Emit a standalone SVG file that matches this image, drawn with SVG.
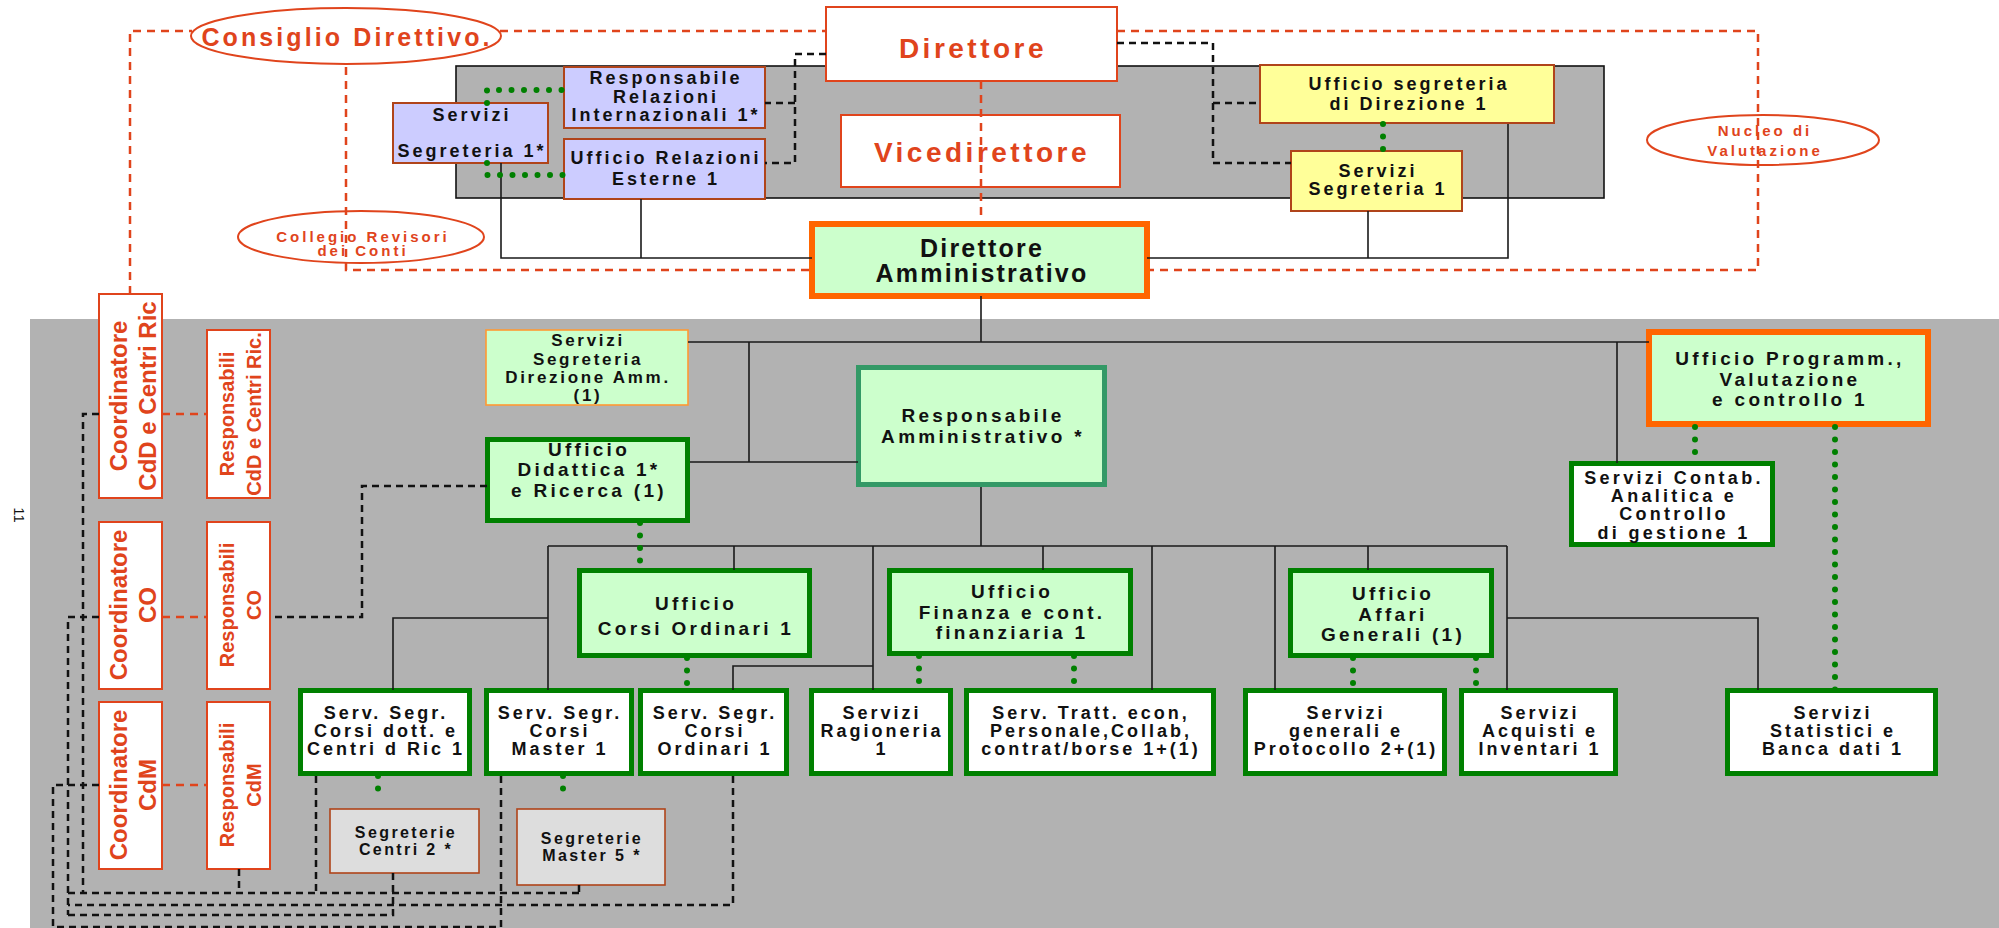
<svg xmlns="http://www.w3.org/2000/svg" width="1999" height="928" viewBox="0 0 1999 928">
  <style>
    .t { font-family: "Liberation Sans", Arial, Helvetica, sans-serif; font-weight: bold; text-anchor: middle; fill: #111; }
    .red { fill: #e0441c; }
    .f15 { font-size: 15px; letter-spacing: 3px; }
    .f16 { font-size: 16px; letter-spacing: 2.4px; }
    .f17 { font-size: 17px; letter-spacing: 2.7px; }
    .f18 { font-size: 18px; letter-spacing: 3px; }
    .f19 { font-size: 19px; letter-spacing: 3.3px; }
    .f25 { font-size: 25px; letter-spacing: 2.2px; }
    .f28 { font-size: 28px; letter-spacing: 3.5px; }
    .rot24 { font-size: 24px; }
    .rot20 { font-size: 20px; }
    .panel { fill: #b2b2b2; }
    .lav { fill: #ccccff; stroke: #b0441a; stroke-width: 2; }
    .yel { fill: #ffff99; stroke: #b0441a; stroke-width: 2; }
    .wred { fill: #fff; stroke: #e0441c; stroke-width: 2; }
    .lg { fill: #ccffcc; stroke: #008000; stroke-width: 5; }
    .wg { fill: #fff; stroke: #008000; stroke-width: 5; }
    .lgo { fill: #ccffcc; stroke: #ff6600; stroke-width: 6; }
    .grey { fill: #dddddd; stroke: #b0441a; stroke-width: 1.6; }
    .oval { fill: none; stroke: #e0441c; stroke-width: 2; }
    .solid { fill: none; stroke: #1a1a1a; stroke-width: 1.6; }
    .bdash { fill: none; stroke: #111; stroke-width: 2.5; stroke-dasharray: 7 5; }
    .rdash { fill: none; stroke: #e0441c; stroke-width: 2.5; stroke-dasharray: 8 6; }
    .dots { fill: none; stroke: #008000; stroke-width: 6; stroke-linecap: round; stroke-dasharray: 0 12.5; }
  </style>

  <!-- background panels -->
  <rect x="0" y="0" width="1999" height="928" fill="#fff"/>
  <rect class="panel" x="30" y="319" width="1969" height="609"/>
  <rect class="panel" x="456" y="66" width="1148" height="132" stroke="#111" stroke-width="1.6"/>
  <text class="t" transform="translate(14,515) rotate(90)" style="font-size:15px;font-weight:normal">11</text>

  <!-- nodes -->
  <g id="consiglio-direttivo">
    <ellipse cx="346" cy="36" rx="155" ry="28" fill="#fff" stroke="#e0441c" stroke-width="2"/>
    <text class="t red" x="347" y="46" style="font-size:25px;letter-spacing:3.1px">Consiglio Direttivo.</text>
  </g>
  <g id="collegio-revisori">
    <ellipse class="oval" cx="361" cy="237" rx="123" ry="26"/>
    <text class="t red f15" x="363" y="242">Collegio Revisori</text>
    <text class="t red f15" x="363" y="256">dei Conti</text>
  </g>
  <g id="nucleo-valutazione">
    <ellipse class="oval" cx="1763" cy="140" rx="116" ry="25"/>
    <text class="t red f15" x="1765" y="136">Nucleo di</text>
    <text class="t red f15" x="1765" y="156">Valutazione</text>
  </g>
  <g id="direttore">
    <rect class="wred" x="826" y="7" width="291" height="74"/>
    <text class="t red f28" x="973" y="58">Direttore</text>
  </g>
  <g id="vicedirettore">
    <rect class="wred" x="841" y="115" width="279" height="72"/>
    <text class="t red f28" x="982" y="162">Vicedirettore</text>
  </g>
  <g id="resp-relazioni-int">
    <rect class="lav" x="564" y="67" width="201" height="61"/>
    <text class="t f18" x="666" y="84">Responsabile</text>
    <text class="t f18" x="666" y="103">Relazioni</text>
    <text class="t f18" x="666" y="121">Internazionali 1*</text>
  </g>
  <g id="uff-relazioni-est">
    <rect class="lav" x="564" y="139" width="201" height="60"/>
    <text class="t f18" x="666" y="164">Ufficio Relazioni</text>
    <text class="t f18" x="666" y="185">Esterne 1</text>
  </g>
  <g id="servizi-segreteria-dir">
    <rect class="lav" x="393" y="103" width="155" height="60"/>
    <text class="t f18" x="472" y="121">Servizi</text>
    <text class="t f18" x="472" y="157">Segreteria 1*</text>
  </g>
  <g id="uff-segreteria-direzione">
    <rect class="yel" x="1260" y="65" width="294" height="58"/>
    <text class="t f18" x="1409" y="90">Ufficio segreteria</text>
    <text class="t f18" x="1409" y="110">di Direzione 1</text>
  </g>
  <g id="servizi-segreteria-1">
    <rect class="yel" x="1291" y="151" width="171" height="60"/>
    <text class="t f18" x="1378" y="177">Servizi</text>
    <text class="t f18" x="1378" y="195">Segreteria 1</text>
  </g>
  <g id="direttore-amm">
    <rect class="lgo" x="812" y="224" width="335" height="72"/>
    <text class="t f25" x="982" y="257">Direttore</text>
    <text class="t f25" x="982" y="282">Amministrativo</text>
  </g>

  <g id="coord-cdd">
    <rect class="wred" x="99" y="294" width="63" height="204"/>
    <text class="t red rot24" transform="translate(127,396) rotate(-90)">Coordinatore</text>
    <text class="t red rot24" transform="translate(156,396) rotate(-90)">CdD e Centri Ric</text>
  </g>
  <g id="resp-cdd">
    <rect class="wred" x="207" y="330" width="63" height="168"/>
    <text class="t red rot20" transform="translate(234,414) rotate(-90)">Responsabili</text>
    <text class="t red rot20" transform="translate(261,414) rotate(-90)">CdD e Centri Ric.</text>
  </g>
  <g id="coord-co">
    <rect class="wred" x="99" y="522" width="63" height="167"/>
    <text class="t red rot24" transform="translate(127,605) rotate(-90)">Coordinatore</text>
    <text class="t red rot24" transform="translate(156,605) rotate(-90)">CO</text>
  </g>
  <g id="resp-co">
    <rect class="wred" x="207" y="522" width="63" height="167"/>
    <text class="t red rot20" transform="translate(234,605) rotate(-90)">Responsabili</text>
    <text class="t red rot20" transform="translate(261,605) rotate(-90)">CO</text>
  </g>
  <g id="coord-cdm">
    <rect class="wred" x="99" y="702" width="63" height="167"/>
    <text class="t red rot24" transform="translate(127,785) rotate(-90)">Coordinatore</text>
    <text class="t red rot24" transform="translate(156,785) rotate(-90)">CdM</text>
  </g>
  <g id="resp-cdm">
    <rect class="wred" x="207" y="702" width="63" height="167"/>
    <text class="t red rot20" transform="translate(234,785) rotate(-90)">Responsabili</text>
    <text class="t red rot20" transform="translate(261,785) rotate(-90)">CdM</text>
  </g>

  <g id="servizi-segreteria-dir-amm">
    <rect x="486" y="330" width="202" height="75" fill="#ccffcc" stroke="#ff9933" stroke-width="1.6"/>
    <text class="t f17" x="588" y="346">Servizi</text>
    <text class="t f17" x="588" y="365">Segreteria</text>
    <text class="t f17" x="588" y="383">Direzione Amm.</text>
    <text class="t f17" x="588" y="401">(1)</text>
  </g>
  <g id="uff-didattica">
    <rect class="lg" x="487.5" y="439.5" width="200" height="81"/>
    <text class="t f19" x="589" y="456">Ufficio</text>
    <text class="t f19" x="589" y="476">Didattica 1*</text>
    <text class="t f19" x="589" y="497">e Ricerca (1)</text>
  </g>
  <g id="resp-amministrativo">
    <rect x="858.5" y="367.5" width="246" height="117" fill="#ccffcc" stroke="#339966" stroke-width="5"/>
    <text class="t f19" x="983" y="422">Responsabile</text>
    <text class="t f19" x="983" y="443">Amministrativo *</text>
  </g>
  <g id="uff-programmazione">
    <rect class="lgo" x="1649" y="332" width="279" height="92"/>
    <text class="t f19" x="1790" y="365">Ufficio Programm.,</text>
    <text class="t f19" x="1790" y="386">Valutazione</text>
    <text class="t f19" x="1790" y="406">e controllo 1</text>
  </g>
  <g id="servizi-contab">
    <rect class="wg" x="1571.5" y="463.5" width="201" height="81"/>
    <text class="t f18" x="1674" y="484" style="letter-spacing:3.3px">Servizi Contab.</text>
    <text class="t f18" x="1674" y="502" style="letter-spacing:3.3px">Analitica e</text>
    <text class="t f18" x="1674" y="520" style="letter-spacing:3.3px">Controllo</text>
    <text class="t f18" x="1674" y="539" style="letter-spacing:3.3px">di gestione 1</text>
  </g>
  <g id="uff-corsi-ordinari">
    <rect class="lg" x="579.5" y="570.5" width="230" height="85"/>
    <text class="t f19" x="696" y="610">Ufficio</text>
    <text class="t f19" x="696" y="635">Corsi Ordinari 1</text>
  </g>
  <g id="uff-finanza">
    <rect class="lg" x="889.5" y="570.5" width="241" height="83"/>
    <text class="t f19" x="1012" y="598">Ufficio</text>
    <text class="t f19" x="1012" y="619">Finanza e cont.</text>
    <text class="t f19" x="1012" y="639">finanziaria 1</text>
  </g>
  <g id="uff-affari-generali">
    <rect class="lg" x="1290.5" y="570.5" width="201" height="85"/>
    <text class="t f19" x="1393" y="600">Ufficio</text>
    <text class="t f19" x="1393" y="621">Affari</text>
    <text class="t f19" x="1393" y="641">Generali (1)</text>
  </g>

  <g id="serv-segr-dott">
    <rect class="wg" x="300.5" y="690.5" width="169" height="83"/>
    <text class="t f18" x="386" y="719">Serv. Segr.</text>
    <text class="t f18" x="386" y="737">Corsi dott. e</text>
    <text class="t f18" x="386" y="755">Centri d Ric 1</text>
  </g>
  <g id="serv-segr-master">
    <rect class="wg" x="486.5" y="690.5" width="145" height="83"/>
    <text class="t f18" x="560" y="719">Serv. Segr.</text>
    <text class="t f18" x="560" y="737">Corsi</text>
    <text class="t f18" x="560" y="755">Master 1</text>
  </g>
  <g id="serv-segr-ordinari">
    <rect class="wg" x="640.5" y="690.5" width="146" height="83"/>
    <text class="t f18" x="715" y="719">Serv. Segr.</text>
    <text class="t f18" x="715" y="737">Corsi</text>
    <text class="t f18" x="715" y="755">Ordinari 1</text>
  </g>
  <g id="servizi-ragioneria">
    <rect class="wg" x="811.5" y="690.5" width="139" height="83"/>
    <text class="t f18" x="882" y="719">Servizi</text>
    <text class="t f18" x="882" y="737">Ragioneria</text>
    <text class="t f18" x="882" y="755">1</text>
  </g>
  <g id="serv-tratt-econ">
    <rect class="wg" x="966.5" y="690.5" width="247" height="83"/>
    <text class="t f18" x="1091" y="719">Serv. Tratt. econ,</text>
    <text class="t f18" x="1091" y="737">Personale,Collab,</text>
    <text class="t f18" x="1091" y="755">contrat/borse 1+(1)</text>
  </g>
  <g id="servizi-generali">
    <rect class="wg" x="1245.5" y="690.5" width="199" height="83"/>
    <text class="t f18" x="1346" y="719">Servizi</text>
    <text class="t f18" x="1346" y="737">generali e</text>
    <text class="t f18" x="1346" y="755">Protocollo 2+(1)</text>
  </g>
  <g id="servizi-acquisti">
    <rect class="wg" x="1461.5" y="690.5" width="154" height="83"/>
    <text class="t f18" x="1540" y="719">Servizi</text>
    <text class="t f18" x="1540" y="737">Acquisti e</text>
    <text class="t f18" x="1540" y="755">Inventari 1</text>
  </g>
  <g id="servizi-statistici">
    <rect class="wg" x="1727.5" y="690.5" width="208" height="83"/>
    <text class="t f18" x="1833" y="719">Servizi</text>
    <text class="t f18" x="1833" y="737">Statistici e</text>
    <text class="t f18" x="1833" y="755">Banca dati 1</text>
  </g>
  <g id="segreterie-centri">
    <rect class="grey" x="330" y="809" width="149" height="64"/>
    <text class="t f16" x="406" y="838">Segreterie</text>
    <text class="t f16" x="406" y="855">Centri 2 *</text>
  </g>
  <g id="segreterie-master">
    <rect class="grey" x="517" y="809" width="148" height="76"/>
    <text class="t f16" x="592" y="844">Segreterie</text>
    <text class="t f16" x="592" y="861">Master 5 *</text>
  </g>

  <!-- connectors -->
  <g id="connectors">
    <!-- solid hierarchy lines -->
    <path class="solid" d="M501,163 V258 H812 M641,199 V258"/>
    <path class="solid" d="M1147,258 H1508 V124 M1368,211 V258"/>
    <path class="solid" d="M981,296 V342 M688,342 H1649 M749,342 V462 M690,462 H858"/>
    <path class="solid" d="M1617,342 V463"/>
    <path class="solid" d="M981,487 V546 M548,546 H1507"/>
    <path class="solid" d="M548,546 V690 M548,618 H393 V690"/>
    <path class="solid" d="M734,546 V570 M873,546 V690 M873,666 H733 V690"/>
    <path class="solid" d="M1043,546 V570 M1152,546 V690 M1275,546 V690 M1368,546 V570"/>
    <path class="solid" d="M1507,546 V690 M1507,618 H1758 V690"/>

    <!-- dashed staff links of the Direttore -->
    <path class="bdash" d="M826,54 H795 V163 H765 M795,103 H765"/>
    <path class="bdash" d="M1117,43 H1213 V163 H1291 M1213,103 H1260"/>

    <!-- governing bodies frame -->
    <path class="rdash" d="M130,294 V31 H192 M500,31 H826 M1117,31 H1758 V270 H1150 M809,270 H346 V64"/>
    <path class="rdash" d="M981,81 V221"/>
    <path class="rdash" d="M162,414 H207 M162,617 H207 M162,785 H207"/>

    <!-- dashed coordination network -->
    <path class="bdash" d="M99,414 H83 V893"/>
    <path class="bdash" d="M487,486 H362 V617 H270 M99,617 H68 V915"/>
    <path class="bdash" d="M99,785 H53 V928"/>
    <path class="bdash" d="M239,869 V893 M316,776 V893 M579,885 V893 M68,893 H579"/>
    <path class="bdash" d="M733,776 V905 H68"/>
    <path class="bdash" d="M393,873 V915 H68"/>
    <path class="bdash" d="M501,776 V927 H53"/>

    <!-- dotted functional links -->
    <path class="dots" d="M487,103 V90 H564"/>
    <path class="dots" d="M487,163 V175 H564"/>
    <path class="dots" d="M1383,124 V151"/>
    <path class="dots" d="M640,523 V570"/>
    <path class="dots" d="M687,658 V690"/>
    <path class="dots" d="M919,656 V690"/>
    <path class="dots" d="M1074,656 V690"/>
    <path class="dots" d="M1353,658 V690"/>
    <path class="dots" d="M1476,658 V690"/>
    <path class="dots" d="M1695,427 V463"/>
    <path class="dots" d="M1835,427 V690"/>
    <path class="dots" d="M378,776 V801"/>
    <path class="dots" d="M563,776 V801"/>
  </g>
</svg>
